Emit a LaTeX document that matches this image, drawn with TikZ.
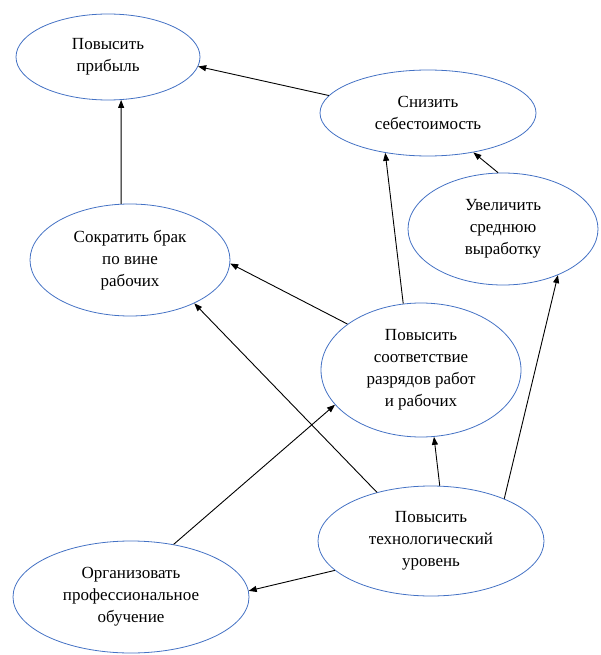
\documentclass[tikz,border=0pt]{standalone}
\usepackage{fontspec}
\setmainfont{Liberation Serif}
\usetikzlibrary{shapes,arrows.meta}
\definecolor{ovalblue}{RGB}{68,114,196}

\begin{document}
\begin{tikzpicture}[x=1pt,y=-1pt,
  goal/.style={ellipse,draw=ovalblue,line width=0.8pt,inner sep=0pt,align=center,
    font=\fontsize{17}{22}\selectfont},
  link/.style={-{Triangle[length=8pt,width=6pt]},line width=0.9pt}]
\useasboundingbox (0,0) rectangle (600,655);

\node[goal,minimum width=184pt,minimum height=86pt] (profit) at (108,57) {Повысить\\прибыль};
\node[goal,minimum width=216pt,minimum height=86pt] (cost) at (428,113) {Снизить\\себестоимость};
\node[goal,minimum width=190pt,minimum height=112pt] (output) at (503,229) {Увеличить\\среднюю\\выработку};
\node[goal,minimum width=200pt,minimum height=112pt] (defect) at (130,260) {Сократить брак\\по вине\\рабочих};
\node[goal,minimum width=200pt,minimum height=134pt] (grade) at (421,370) {Повысить\\соответствие\\разрядов работ\\и рабочих};
\node[goal,minimum width=226pt,minimum height=110pt] (tech) at (431,541) {Повысить\\технологический\\уровень};
\node[goal,minimum width=236pt,minimum height=112pt] (train) at (131,597) {Организовать\\профессиональное\\обучение};

\draw[link] (cost.170) -- (profit.-6);
\draw[link] (defect.99) -- (profit.-73);
\draw[link] (output.95) -- (cost.-41);
\draw[link] (grade.105) -- (cost.-137);
\draw[link] (grade.148) -- (defect.-2);
\draw[link] (tech.138) -- (defect.-34);
\draw[link] (tech.81) -- (grade.-79);
\draw[link] (tech.30) -- (output.-40);
\draw[link] (tech.-163) -- (train.3);
\draw[link] (train.51) -- (grade.-158);

\end{tikzpicture}
\end{document}
